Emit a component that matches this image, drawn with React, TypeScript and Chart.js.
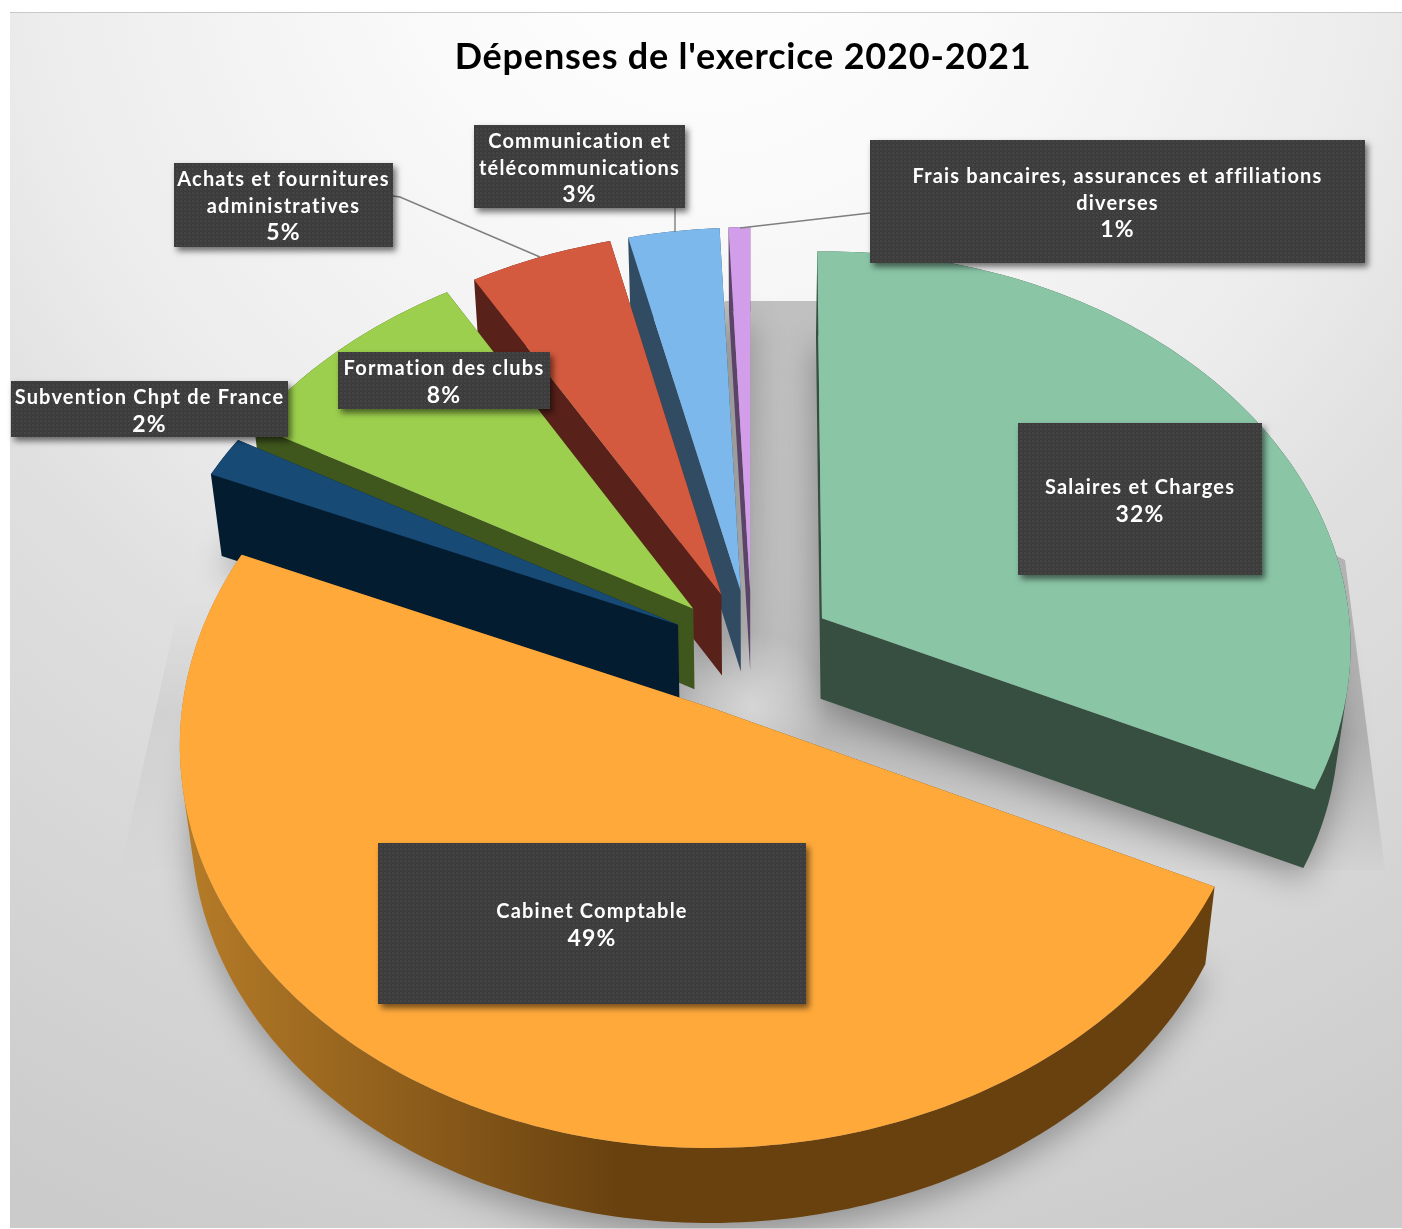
import React, { useEffect, useRef } from "react";
import { Chart, registerables } from "chart.js";

Chart.register(...registerables);

const titleText = "Dépenses de l'exercice 2020-2021";
const categories = [
  "Salaires et Charges",
  "Cabinet Comptable",
  "Subvention Chpt de France",
  "Formation des clubs",
  "Achats et fournitures administratives",
  "Communication et télécommunications",
  "Frais bancaires, assurances et affiliations diverses",
];
const seriesValues = [32.1, 49.49, 1.65, 8.35, 4.7, 3, 0.71];
const topColors = ["#8ac5a6", "#ffa93a", "#174a75", "#9ccf4d", "#d35a3e", "#7db8ec", "#d29ee9"];
const sideColors = ["#364f40", "#68410f", "#041c2f", "#3f561d", "#58211a", "#304b62", "#5b4467"];

// category lines wrapped as in the label boxes
const labelLines = [
  ["Salaires et Charges"],
  ["Cabinet Comptable"],
  ["Subvention Chpt de France"],
  ["Formation des clubs"],
  ["Achats et fournitures", "administratives"],
  ["Communication et", "télécommunications"],
  ["Frais bancaires, assurances et affiliations", "diverses"],
];
// label box geometry [left, top, right, bottom, first baseline-centre y]
const labelBoxes = [
  [1018, 423, 1262, 575, 488],
  [378, 843, 806, 1004, 912],
  [11, 381, 288, 437, 398],
  [338, 352, 550, 409, 369],
  [174, 163, 393, 247, 180],
  [474, 125, 685, 208, 142],
  [870, 140, 1365, 263, 177],
];
const leaderLines = [
  [[393, 196], [400, 197], [540, 257]],
  [[675, 208], [675, 232]],
  [[870, 213], [740, 228]],
];

// camera model of the 3D pie
const CX = 752, CY = 652, FX = 530, FY = 398, PERSP = 0.0721, EXPLODE = 0.157, TILT = 0.008;
const DEPTH = 80;
const project = (u: number, v: number): [number, number] => {
  const w = 1 - PERSP * v;
  const x = (FX * u) / w;
  return [CX + x, CY + (FY * v) / w - TILT * x];
};
const lower = (p: number[], t: number): [number, number] => [
  CX + (p[0] - CX) * (1 - 0.02 * t),
  p[1] + t * (DEPTH - 0.01 * (p[1] - CY)),
];

const slicePoints = (start: number, end: number) => {
  const mid = (start + end) / 2;
  const ox = EXPLODE * Math.cos(mid), oy = EXPLODE * Math.sin(mid);
  const pts: [number, number][] = [project(ox, oy)];
  const n = Math.max(2, Math.ceil(((end - start) * 180) / Math.PI));
  for (let i = 0; i <= n; i++) {
    const a = start + ((end - start) * i) / n;
    pts.push(project(ox + Math.cos(a), oy + Math.sin(a)));
  }
  return pts;
};
const addPoly = (ctx: CanvasRenderingContext2D, pts: number[][]) => {
  pts.forEach((p, i) => (i ? ctx.lineTo(p[0], p[1]) : ctx.moveTo(p[0], p[1])));
  ctx.closePath();
};
const tracePoly = (ctx: CanvasRenderingContext2D, pts: number[][]) => {
  ctx.beginPath();
  addPoly(ctx, pts);
};
const signedArea = (pts: number[][]) =>
  pts.reduce((sum, p, i) => {
    const q = pts[(i + 1) % pts.length];
    return sum + p[0] * q[1] - q[0] * p[1];
  }, 0);

const makeDots = (ctx: CanvasRenderingContext2D) => {
  const c = document.createElement("canvas");
  c.width = 4;
  c.height = 4;
  const g = c.getContext("2d")!;
  g.fillStyle = "#3c3c3c";
  g.fillRect(0, 0, 4, 4);
  g.fillStyle = "#454545";
  g.fillRect(0, 0, 2, 2);
  g.fillRect(2, 2, 1, 1);
  return ctx.createPattern(c, "repeat")!;
};

const piePlugin = {
  id: "pie3d",
  beforeDraw(chart: any) {
    const ctx: CanvasRenderingContext2D = chart.ctx;
    const W = chart.width, H = chart.height;
    ctx.save();
    ctx.fillStyle = "#ffffff";
    ctx.fillRect(0, 0, W, H);
    const bg = ctx.createRadialGradient(700, -100, 0, 700, -100, 1450);
    bg.addColorStop(0, "#ffffff");
    bg.addColorStop(0.2, "#fafafa");
    bg.addColorStop(0.47, "#ececec");
    bg.addColorStop(0.6, "#e0e0e0");
    bg.addColorStop(1, "#cbcbcb");
    ctx.fillStyle = bg;
    ctx.fillRect(10, 12, W - 10, H - 13);
    ctx.fillStyle = "#c8c8c8";
    ctx.fillRect(10, 12, W - 10, 1);
    ctx.restore();
  },
  beforeDatasetsDraw(chart: any) {
    const ctx: CanvasRenderingContext2D = chart.ctx;
    const arcs = chart.getDatasetMeta(0).data;
    const slices = arcs.map((el: any, i: number) => {
      const { startAngle, endAngle } = el.getProps(["startAngle", "endAngle"], true);
      return { i, pts: slicePoints(startAngle, endAngle) };
    });

    // floor shadow
    ctx.save();
    const fade = ctx.createLinearGradient(0, 301, 0, 880);
    fade.addColorStop(0, "rgba(0,0,0,0.22)");
    fade.addColorStop(0.75, "rgba(0,0,0,0.18)");
    fade.addColorStop(1, "rgba(0,0,0,0)");
    ctx.fillStyle = fade;
    tracePoly(ctx, [[725, 301], [820, 301], [1345, 560], [1385, 870], [560, 870], [560, 560]]);
    ctx.fill();
    const faint = ctx.createLinearGradient(0, 600, 0, 880);
    faint.addColorStop(0, "rgba(0,0,0,0)");
    faint.addColorStop(0.4, "rgba(0,0,0,0.05)");
    faint.addColorStop(1, "rgba(0,0,0,0)");
    ctx.fillStyle = faint;
    tracePoly(ctx, [[180, 600], [560, 600], [560, 870], [120, 870]]);
    ctx.fill();
    ctx.filter = "blur(16px)";
    ctx.fillStyle = "rgba(0,0,0,0.3)";
    slices.forEach((s: any) => {
      tracePoly(ctx, s.pts.map((p: number[]) => {
        const q = lower(p, 1);
        return [q[0], q[1] + 12];
      }));
      ctx.fill();
    });
    ctx.filter = "none";
    const glow = ctx.createRadialGradient(753, 707, 0, 753, 707, 75);
    glow.addColorStop(0, "rgba(255,255,255,0.4)");
    glow.addColorStop(1, "rgba(255,255,255,0)");
    ctx.fillStyle = glow;
    ctx.fillRect(670, 630, 170, 160);
    ctx.restore();

    // painter's order, back to front
    const order = [6, 5, 4, 3, 2, 0, 1];
    order.forEach((i) => {
      const s = slices[i];
      let side: any = sideColors[i];
      if (i === 1) {
        const g = ctx.createLinearGradient(180, 0, 620, 0);
        g.addColorStop(0, "#b67c28");
        g.addColorStop(1, sideColors[1]);
        side = g;
      }
      ctx.save();
      ctx.fillStyle = side;
      const n = s.pts.length;
      // one path with every wall quad wound the same way, filled once: no seams
      ctx.beginPath();
      for (let k = 0; k < n; k++) {
        const p = s.pts[k], q = s.pts[(k + 1) % n];
        const quad = [p, q, lower(q, 1), lower(p, 1)];
        addPoly(ctx, signedArea(quad) < 0 ? quad.slice().reverse() : quad);
      }
      ctx.fill("nonzero");
      tracePoly(ctx, s.pts);
      ctx.fillStyle = topColors[i];
      ctx.fill();
      ctx.restore();
    });

    // leader lines
    ctx.save();
    ctx.strokeStyle = "#7f7f7f";
    ctx.lineWidth = 1.4;
    leaderLines.forEach((line) => {
      ctx.beginPath();
      line.forEach((p, k) => (k ? ctx.lineTo(p[0], p[1]) : ctx.moveTo(p[0], p[1])));
      ctx.stroke();
    });
    ctx.restore();

    // labels
    const dots = makeDots(ctx);
    const total = seriesValues.reduce((a, b) => a + b, 0);
    labelBoxes.forEach((b, i) => {
      const [l, t, r, bottom, first] = b;
      ctx.save();
      ctx.shadowColor = "rgba(0,0,0,0.55)";
      ctx.shadowBlur = 6;
      ctx.shadowOffsetX = 3;
      ctx.shadowOffsetY = 4;
      ctx.fillStyle = dots;
      ctx.fillRect(l, t, r - l, bottom - t);
      ctx.restore();
      ctx.save();
      ctx.fillStyle = "#ffffff";
      ctx.textAlign = "center";
      ctx.textBaseline = "middle";
      (ctx as any).letterSpacing = "1.2px";
      ctx.font = "bold 20px Lato";
      const xc = (l + r) / 2;
      labelLines[i].forEach((line, k) => ctx.fillText(line, xc, first + k * 26.5));
      ctx.font = "bold 23px Lato";
      ctx.fillText(
        `${Math.round((seriesValues[i] / total) * 100)}%`,
        xc,
        first + labelLines[i].length * 26.5
      );
      ctx.restore();
    });

    // title
    ctx.save();
    ctx.fillStyle = "#000000";
    ctx.textAlign = "center";
    ctx.textBaseline = "middle";
    (ctx as any).letterSpacing = "0.8px";
    ctx.font = "bold 36px Lato";
    ctx.fillText(titleText, 743, 57);
    ctx.restore();
    return false;
  },
};

export default function App() {
  const ref = useRef<HTMLCanvasElement>(null);
  useEffect(() => {
    const chart = new Chart(ref.current!, {
      type: "pie",
      data: {
        labels: categories,
        datasets: [{ data: seriesValues, backgroundColor: topColors, borderWidth: 0 }],
      },
      options: {
        animation: false,
        responsive: false,
        devicePixelRatio: 1,
        rotation: 0,
        plugins: { legend: { display: false }, tooltip: { enabled: false }, title: { display: false } },
      },
      plugins: [piePlugin as any],
    });
    return () => chart.destroy();
  }, []);
  return (
    <div style={{ position: "absolute", left: 0, top: 0, width: 1402, height: 1229 }}>
      <canvas ref={ref} width={1402} height={1229} style={{ display: "block" }} />
    </div>
  );
}
